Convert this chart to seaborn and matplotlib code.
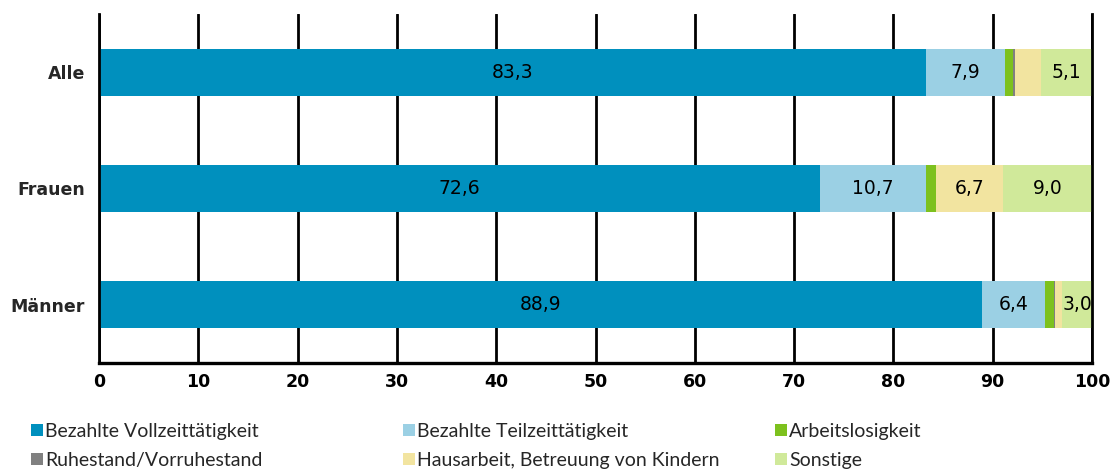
import matplotlib
matplotlib.use("Agg")
import matplotlib.pyplot as plt
import pandas as pd
import seaborn as sns
from matplotlib.patches import Patch

# ============================================
# Data
# ============================================
groups = ["Alle", "Frauen", "Männer"]
categories = [
    "Bezahlte Vollzeittätigkeit",
    "Bezahlte Teilzeittätigkeit",
    "Arbeitslosigkeit",
    "Ruhestand/Vorruhestand",
    "Hausarbeit, Betreuung von Kindern",
    "Sonstige",
]
vollzeit = [83.3, 72.6, 88.9]
teilzeit = [7.9, 10.7, 6.4]
arbeitslos = [0.8, 1.0, 0.9]
ruhestand = [0.2, 0.0, 0.1]
hausarbeit = [2.7, 6.7, 0.7]
sonstige = [5.1, 9.0, 3.0]

colors = ["#0090be", "#9bd0e4", "#7dc11e", "#808080", "#f2e4a0", "#d0e99a"]

series = [vollzeit, teilzeit, arbeitslos, ruhestand, hausarbeit, sonstige]

df = pd.DataFrame({cat: vals for cat, vals in zip(categories, series)}, index=groups)
cum = df.cumsum(axis=1)

# ============================================
# Plot
# ============================================
sns.set_style("white")
plt.rcParams["font.family"] = ["DejaVu Sans"]

fig = plt.figure(figsize=(11.14, 4.72), dpi=100)
ax = fig.add_axes([99 / 1114, 1 - 363 / 472, 993 / 1114, 349 / 472])

# stacked bars: draw cumulative totals from the back to the front
for cat, col in reversed(list(zip(categories, colors))):
    part = pd.DataFrame({"Gruppe": groups, "Wert": cum[cat].values})
    sns.barplot(
        data=part, x="Wert", y="Gruppe", orient="h",
        color=col, saturation=1, width=0.405, errorbar=None,
        linewidth=0, edgecolor="none", ax=ax,
    )

# value labels for the larger segments
for i, g in enumerate(groups):
    left = 0
    for cat in categories:
        v = df.loc[g, cat]
        if v >= 3:
            ax.text(left + v / 2, i, f"{v:.1f}".replace(".", ","),
                    ha="center", va="center", fontsize=13.5, color="black")
        left += v

ax.set_xlim(0, 100)
ax.set_ylim(2.5, -0.5)
ax.set_xticks(range(0, 101, 10))
ax.set_xlabel("")
ax.set_ylabel("")

ax.set_axisbelow(True)
ax.xaxis.grid(True, color="black", linewidth=2)
ax.yaxis.grid(False)

ax.spines["top"].set_visible(False)
for side in ["left", "right"]:
    ax.spines[side].set_color("black")
    ax.spines[side].set_linewidth(2)
ax.spines["bottom"].set_color("black")
ax.spines["bottom"].set_linewidth(2.4)

ax.tick_params(axis="x", length=3, width=2, direction="out", pad=4,
               labelsize=12.5, colors="black")
ax.tick_params(axis="y", length=0, pad=10, labelsize=12.5)
for lab in ax.get_xticklabels() + ax.get_yticklabels():
    lab.set_fontweight("bold")

# ============================================
# Legend (three columns, two rows)
# ============================================
handles = [Patch(facecolor=c, edgecolor="none") for c in colors]
col_x = [31 / 1114, 403 / 1114, 775 / 1114]
col_items = [(0, 3), (1, 4), (2, 5)]
for x0, (a, b) in zip(col_x, col_items):
    fig.legend(
        [handles[a], handles[b]], [categories[a], categories[b]],
        loc="upper left", bbox_to_anchor=(x0, 1 - 423 / 472),
        frameon=False, borderpad=0, borderaxespad=0,
        handlelength=0.6, handleheight=0.6, handletextpad=0.12,
        labelspacing=0.6, prop={"family": "Lato", "size": 14},
    )

plt.savefig("out.png", dpi=100)
